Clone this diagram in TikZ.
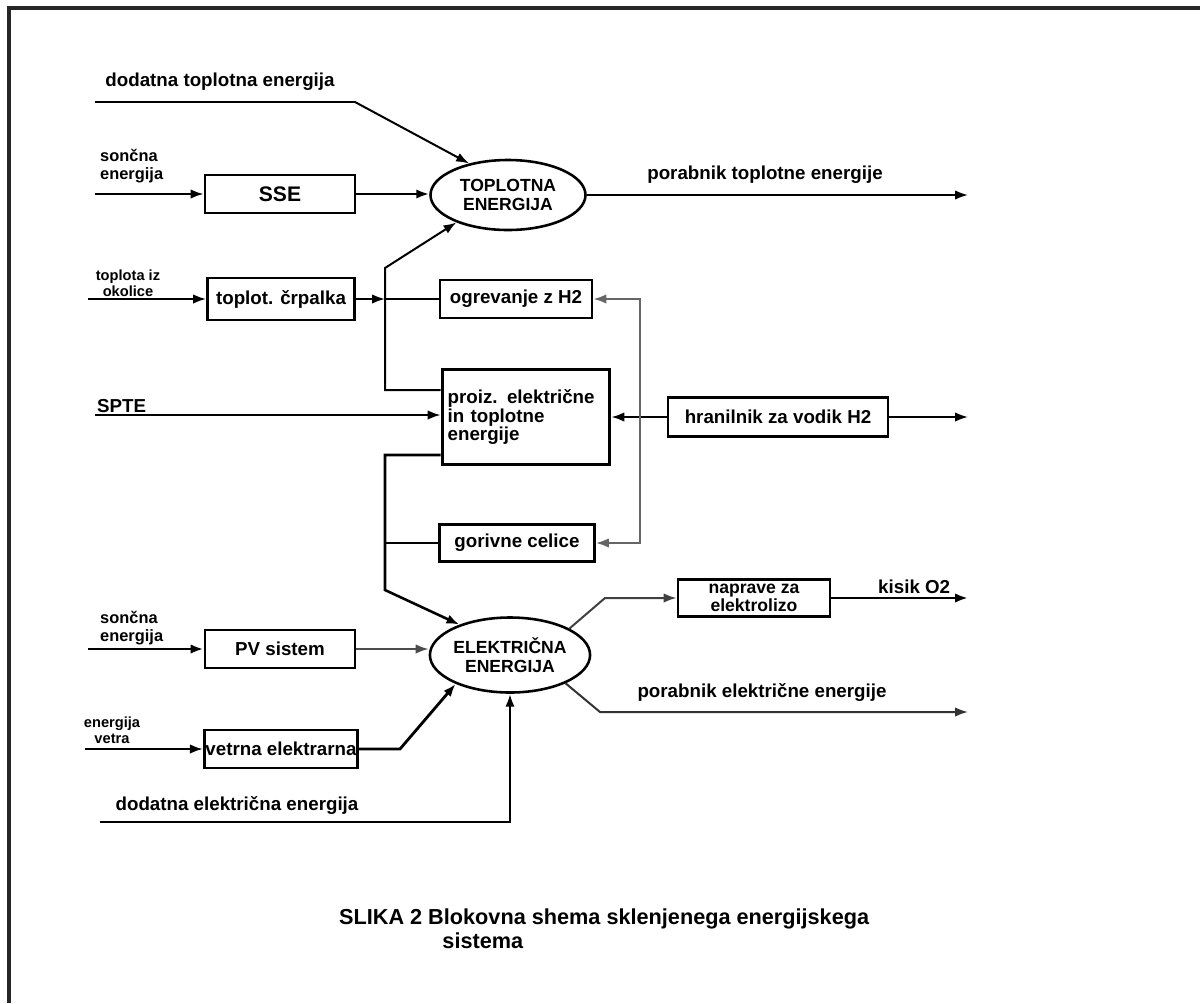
\documentclass[tikz,border=0pt]{standalone}
\usepackage{fontspec}
\setmainfont{Liberation Sans}
\usepackage{tikz}
\usetikzlibrary{arrows.meta,positioning,calc,shapes.geometric}

\begin{document}
\begin{tikzpicture}[
    x=0.03cm, y=-0.03cm,
    blok/.style={
        draw, line width=2.4pt, minimum width=4.5cm, minimum height=1.14cm,
        font=\fontsize{16}{16}\selectfont\bfseries, align=center, inner sep=1pt
    },
    elip/.style={
        draw, ellipse, line width=2.2pt, minimum width=4.65cm, minimum height=2.1cm,
        font=\fontsize{15}{16}\selectfont\bfseries, align=center, inner sep=0pt
    },
    lbl/.style={font=\fontsize{16}{16}\selectfont\bfseries, align=left, inner sep=0pt},
    mlbl/.style={font=\fontsize{12.5}{14}\selectfont\bfseries, align=center, inner sep=0pt},
    tok/.style={-{Latex[length=11pt,width=8pt]}, line width=1.7pt},
    vod/.style={line width=1.7pt}
]

% okvir
\useasboundingbox (0,0) rectangle (1200,1003);
\draw[line width=3pt, black!85] (9,1003) -- (9,8) -- (1200,8);

% glavni vozlisci (toplota zgoraj, elektrika spodaj)
\node[elip] (topl) at (508,195) {TOPLOTNA\\ENERGIJA};
\node[elip, minimum width=4.8cm, minimum height=2.25cm] (elek) at (510,655) {ELEKTRIČNA\\ENERGIJA};

% bloki
\node[blok, font=\fontsize{18}{18}\selectfont\bfseries] (sse) at (280,194) {SSE};
\node[blok, minimum width=4.41cm, minimum height=1.26cm] (crp) at (281,299) {toplot. črpalka};
\node[blok, minimum width=4.56cm] (ogr) at (516,299) {ogrevanje z H2};
\node[blok, line width=3.2pt, minimum width=5.01cm, minimum height=2.85cm, align=left,
      text width=4.7cm] (proiz) at (526,417) {proiz. električne\\in toplotne\\energije};
\node[blok, minimum width=6.6cm, minimum height=1.17cm] (hran) at (778,417) {hranilnik za vodik H2};
\node[blok, minimum width=4.65cm, minimum height=1.11cm] (gor) at (517,543) {gorivne celice};
\node[blok, minimum width=4.56cm, minimum height=1.11cm, font=\fontsize{15}{15}\selectfont\bfseries] (nap) at (754,598) {naprave za\\elektrolizo};
\node[blok] (pv) at (280,649) {PV sistem};
\node[blok, minimum width=4.59cm] (vet) at (281,749) {vetrna elektrarna};

% napisi
\node[lbl] (ldtop) at (220,82) {dodatna toplotna energija};
\node[mlbl, font=\fontsize{14}{15}\selectfont\bfseries, align=left, anchor=west] (lsonc1) at (100,166) {sončna\\energija};
\node[lbl] (lptop) at (765,175) {porabnik toplotne energije};
\node[mlbl] (lokol) at (128,283) {toplota iz\\okolice};
\node[lbl, anchor=west] (lspte) at (97,406) {SPTE};
\node[lbl, anchor=west] (lkis) at (878,587) {kisik O2};
\node[mlbl, font=\fontsize{14}{15}\selectfont\bfseries, align=left, anchor=west] (lsonc2) at (100,628) {sončna\\energija};
\node[lbl] (lpel) at (762,692) {porabnik električne energije};
\node[mlbl] (lvet) at (112,730) {energija\\vetra};
\node[lbl] (ldel) at (237,805) {dodatna električna energija};
\node[font=\fontsize{18.5}{20}\selectfont\bfseries, align=left, anchor=north west] (cap)
    at (335,905) {SLIKA 2 Blokovna shema sklenjenega energijskega\\\hspace*{3.1cm}sistema};

% prosti konci in prelomi
\coordinate (d0) at (95,102);   \coordinate (d1) at (355,102);
\coordinate (s0) at (95,194);
\coordinate (pt) at (968,195);
\coordinate (o0) at (88,299);
\coordinate (j1) at (385,299);
\coordinate (j2) at (385,390);  \coordinate (j3) at (385,268);
\coordinate (j4) at (385,455);  \coordinate (j5) at (385,590);
\coordinate (j6) at (385,543);
\coordinate (sp) at (95,415);
\coordinate (h1) at (640,299);  \coordinate (h2) at (640,543);
\coordinate (ht) at (968,417);
\coordinate (e1) at (605,598);
\coordinate (kt) at (968,598);
\coordinate (s2) at (88,649);
\coordinate (e2) at (600,712);  \coordinate (et) at (968,712);
\coordinate (v0) at (85,749);   \coordinate (v1) at (400,749);
\coordinate (a0) at (100,822);  \coordinate (a1) at (510,822);

% toplotni del
\draw[tok] (d0) -- (d1) -- (topl.141);
\draw[tok] (s0) -- (sse.west);
\draw[tok, line width=2.4pt] (sse.east) -- (topl.west |- sse.east);
\draw[tok] (topl.east) -- (pt);
\draw[tok] (o0) -- (crp.west);
\draw[tok] (crp.east) -- (j1);
\draw[vod, line width=1.2pt] (j1) -- (ogr.west);
\draw[tok] (proiz.west |- j2) -- (j2) -- (j3) -- (topl.208);

% vodik
\draw[tok] (sp) -- (proiz.west |- sp);
\draw[tok] (hran.west) -- (proiz.east);
\draw[{Latex[length=11pt,width=8pt]}-{Latex[length=11pt,width=8pt]}, line width=1.7pt, black!60]
    (ogr.east) -- (h1) -- (h2) -- (gor.east);
\draw[vod] (gor.west) -- (j6);
\draw[tok] (hran.east) -- (ht);

% elektricni del
\draw[tok, line width=2.2pt] (proiz.west |- j4) -- (j4) -- (j5) -- (elek.149);
\draw[tok, black!75] (elek.24) -- (e1) -- (nap.west);
\draw[tok, line width=2.2pt] (nap.east) -- (kt);
\draw[tok, line width=2.4pt] (s2) -- (pv.west);
\draw[tok, black!70] (pv.east) -- (elek.west |- pv.east);
\draw[tok, black!80] (elek.333) -- (e2) -- (et);
\draw[tok] (v0) -- (vet.west);
\draw[tok, line width=2.4pt] (vet.east) -- (v1) -- (elek.208);
\draw[tok, line width=2.4pt] (a0) -- (a1) -- (elek.south);

\end{tikzpicture}
\end{document}
